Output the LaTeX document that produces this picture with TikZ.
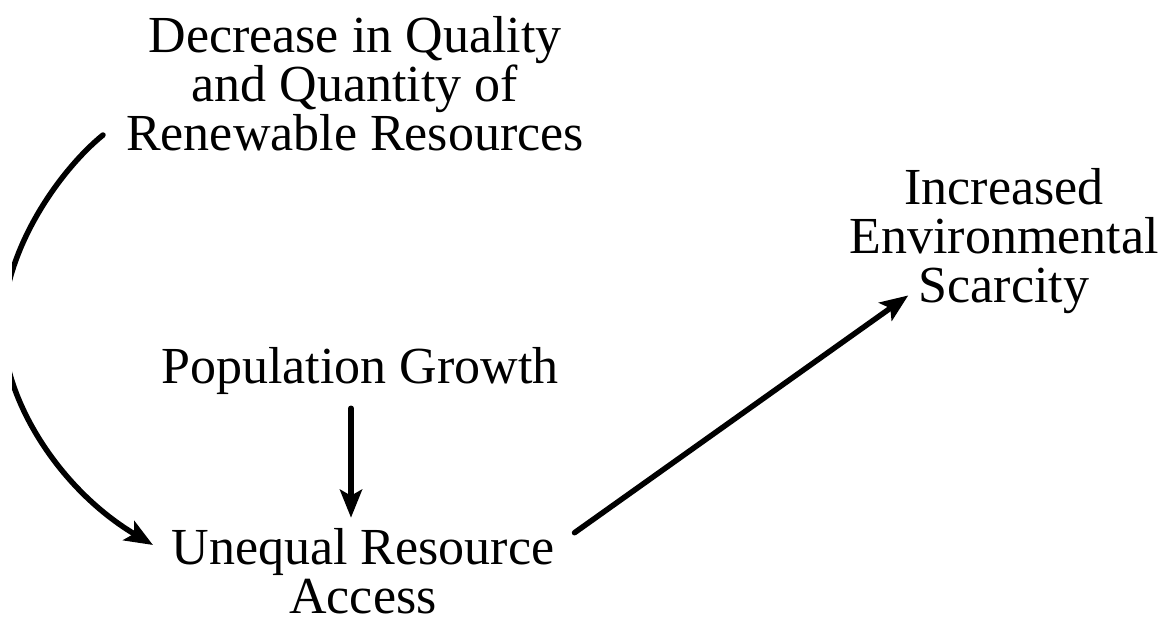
\documentclass[tikz,border=0pt]{standalone}
\usepackage{fontspec}
\setmainfont{Liberation Serif}
\usetikzlibrary{arrows.meta}
\begin{document}
\begin{tikzpicture}[x=1pt,y=-1pt,
  lbl/.style={align=center,inner sep=0pt,anchor=base,font=\fontsize{52}{49}\selectfont},
  arr/.style={line width=5.5pt,line cap=round,-{Stealth[length=28pt,width=22pt,inset=6pt]}}]
\useasboundingbox[fill=white] (0,0) rectangle (1171,622);
\node[lbl] (dec) at (355,150) {Decrease in Quality\\and Quantity of\\Renewable Resources};
\node[lbl] (pop) at (360,383) {Population Growth};
\node[lbl] (uneq) at (363,613) {Unequal Resource\\Access};
\node[lbl] (inc) at (1004,302) {Increased\\Environmental\\Scarcity};
\coordinate (cs) at (103,135);
\coordinate (ce) at (153,545);
\begin{scope}
\clip (12,-10) rectangle (1180,640);
\draw[arr] (cs) .. controls (60,170) and (3,250) .. (3,328)
  .. controls (3,400) and (60,490) .. (ce);
\end{scope}
\draw[arr] ([xshift=-9pt,yshift=-14pt]pop.south) -- ([xshift=-12pt,yshift=10pt]uneq.north);
\draw[arr] ([xshift=20pt,yshift=-5pt]uneq.north east) -- ([xshift=59pt,yshift=18pt]inc.south west);
\end{tikzpicture}
\end{document}
